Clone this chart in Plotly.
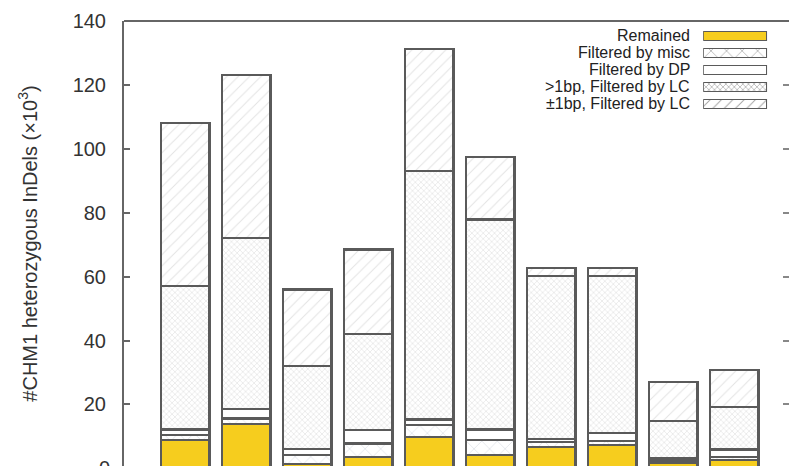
import plotly.graph_objects as go

# Stacked InDel counts (x10^3) per sample, bottom segment first
samples = list(range(1, 11))
remained = [8.8, 14.0, 1.5, 3.6, 9.9, 4.1, 6.7, 7.4, 1.7, 2.6]
filtered_misc = [1.6, 1.6, 2.8, 4.2, 3.6, 4.9, 1.6, 1.2, 0.6, 1.0]
filtered_dp = [1.8, 2.9, 1.8, 4.1, 1.8, 3.2, 1.0, 2.4, 0.8, 2.3]
gt1bp_lc = [44.8, 53.5, 25.9, 30.1, 77.8, 65.7, 50.8, 49.1, 11.7, 13.3]
pm1bp_lc = [51.1, 51.0, 24.0, 26.5, 38.2, 19.5, 2.7, 2.7, 12.3, 11.7]

series_names = ["Remained", "Filtered by misc", "Filtered by DP",
                ">1bp, Filtered by LC", "\u00b11bp, Filtered by LC"]
y_ticks = [0, 20, 40, 60, 80, 100, 120, 140]

EDGE = "#5a5a5a"
GOLD = "#F6CD1E"
FONT = "Liberation Sans, Arial, Helvetica, sans-serif"

styles = [
    dict(color=GOLD, pattern=dict(shape="")),
    dict(color="white", pattern=dict(shape="x", size=11, solidity=0.12,
                                     fgcolor="#b4bccc", bgcolor="white")),
    dict(color="white", pattern=dict(shape="")),
    dict(color="white", pattern=dict(shape="x", size=4, solidity=0.3,
                                     fgcolor="#c4c4c4", bgcolor="white")),
    dict(color="white", pattern=dict(shape="/", size=8, solidity=0.12,
                                     fgcolor="#c6c6c6", bgcolor="white")),
]

fig = go.Figure()
for name, vals, st in zip(series_names,
                          [remained, filtered_misc, filtered_dp, gt1bp_lc, pm1bp_lc],
                          styles):
    fig.add_trace(go.Bar(
        x=samples, y=vals, name=name, width=0.8, showlegend=False,
        marker=dict(color=st["color"], pattern=st["pattern"],
                    line=dict(color=EDGE, width=2.2)),
    ))

# Legend swatches drawn as bars on a small inset axis
fig.add_trace(go.Bar(
    x=[1] * len(series_names), y=series_names, orientation="h", width=0.53,
    xaxis="x3", yaxis="y3", showlegend=False, hoverinfo="skip",
    marker=dict(
        color=[s["color"] for s in styles],
        pattern=dict(
            shape=[s["pattern"]["shape"] for s in styles],
            size=[s["pattern"].get("size", 8) for s in styles],
            solidity=[s["pattern"].get("solidity", 0.3) for s in styles],
            fgcolor=[s["pattern"].get("fgcolor", "#ccc") for s in styles],
            bgcolor="white",
        ),
        line=dict(color=EDGE, width=1.5),
    ),
))

# Empty trace carrying the mirrored right-hand ticks
fig.add_trace(go.Scatter(x=[None], y=[None], yaxis="y2", showlegend=False,
                         hoverinfo="skip"))

y_min, y_max = 0.75, 140
x_range = [0, 10.9]

fig.update_layout(
    width=789, height=466,
    margin=dict(l=124, r=0, t=21, b=0),
    paper_bgcolor="white", plot_bgcolor="white",
    barmode="stack",
    font=dict(family=FONT, color="#222"),
    xaxis=dict(range=x_range, showticklabels=False, ticks="", showgrid=False,
               zeroline=False, showline=False),
    yaxis=dict(range=[y_min, y_max], tickvals=y_ticks, ticks="inside",
               ticklen=6, tickwidth=1.5, tickcolor="#666",
               tickfont=dict(size=20, color="#333"), ticklabelstandoff=12,
               showgrid=False, zeroline=False,
               showline=True, linecolor="#666", linewidth=2,
               title=dict(text="#CHM1 heterozygous InDels (\u00d710<sup>3</sup>)",
                          font=dict(size=20, color="#333"), standoff=30)),
    yaxis2=dict(overlaying="y", side="right", range=[y_min, y_max],
                tickvals=y_ticks, ticks="inside", ticklen=6, tickwidth=1.5,
                tickcolor="#888", showticklabels=False, showgrid=False,
                zeroline=False, showline=False),
    xaxis3=dict(domain=[0.871, 0.967], anchor="y3", range=[0, 1], visible=False),
    yaxis3=dict(domain=[0.7944, 0.9854], anchor="x3", type="category",
                autorange="reversed", visible=False),
    shapes=[dict(type="line", xref="paper", yref="paper", x0=0, x1=1, y0=1, y1=1,
                 line=dict(color="#666", width=2))],
)

# Bottom "0" tick label sits just below the visible plot area
zero_frac = (0 - y_min) / (y_max - y_min)
annotations = [dict(text="0", xref="paper", yref="paper", x=0, y=zero_frac,
                    xanchor="right", yanchor="middle", xshift=-12, showarrow=False,
                    font=dict(size=20, color="#333"))]

# Legend labels, right-aligned to the left of the swatches
dom = fig.layout.yaxis3.domain
n = len(series_names)
for i, name in enumerate(series_names):
    yc = dom[1] - (i + 0.5) * (dom[1] - dom[0]) / n
    annotations.append(dict(text=name, xref="paper", yref="paper", x=0.854, y=yc,
                            xanchor="right", yanchor="middle", showarrow=False,
                            font=dict(size=16, color="#222")))
fig.update_layout(annotations=annotations)

fig.write_html("out.html")
